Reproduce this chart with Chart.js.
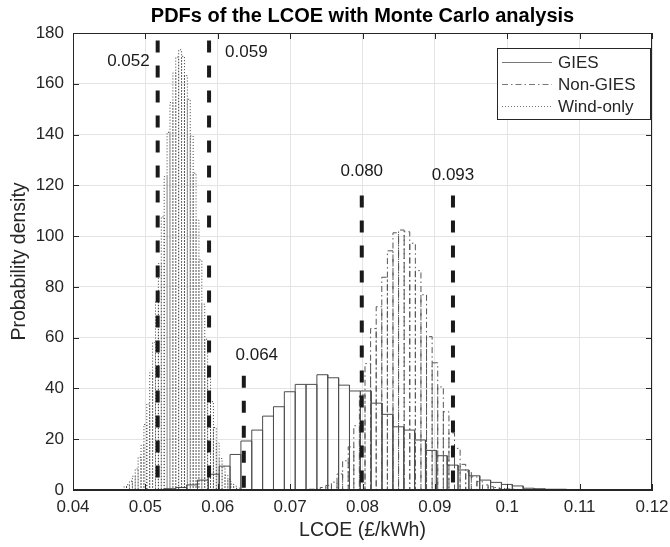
<!DOCTYPE html>
<html>
<head>
<meta charset="utf-8">
<script src="https://cdn.jsdelivr.net/npm/chart.js@4.4.1/dist/chart.umd.min.js"></script>
<style>
  html, body { margin: 0; padding: 0; background: #fff; }
</style>
</head>
<body>
<canvas id="pdfChart" width="670" height="547"></canvas>
<script>
// histogram data (bin start, bin width, density per bin)
const giesStart = 0.0497;
const giesBin = 0.0015;
const giesPdf = [0.1, 0.2, 0.5, 1.0, 2.0, 3.9, 6.2, 9.4, 14.0, 19.3, 23.6, 29.1, 32.8, 38.7,
  41.6, 41.6, 45.4, 44.2, 41.3, 39.0, 39.0, 34.2, 29.8, 24.9, 23.6, 19.7, 15.6, 13.5,
  9.8, 7.9, 5.6, 3.9, 3.0, 2.2, 1.6, 0.7, 0.5, 0.3, 0.3, 0.2, 0.1, 0.1];

const nonGiesStart = 0.07107;
const nonGiesBin = 0.000773;
const nonGiesPdf = [0.1, 0.2, 0.3, 0.5, 1.0, 1.8, 3.1, 6.3, 11.5, 17.0, 25.3, 37.4, 49.8,
  63.6, 72.2, 83.8, 94.2, 101.3, 102.4, 101.7, 97.2, 86.4, 76.9, 60.4, 50.1, 40.6, 30.8,
  22.5, 16.4, 10.1, 7.2, 5.2, 3.3, 2.0, 1.3, 1.0, 0.6, 0.4, 0.3, 0.2, 0.1];

const windStart = 0.0470;
const windBin = 0.0004;
const windPdf = [1.2, 2.1, 3.5, 5.4, 8.3, 12.9, 17.6, 25.8, 33.9, 46.2, 58.1, 74.5, 89.2,
  107.6, 123.4, 140.9, 152.6, 164.3, 170.5, 173.4, 170.8, 163.2, 153.9, 139.5, 124.8,
  106.3, 90.6, 73.2, 59.4, 45.1, 34.8, 24.6, 18.5, 12.4, 9.1, 5.8, 4.2, 2.4, 1.5, 0.8];

// vertical dashed markers
const markerX = [0.0517, 0.0588, 0.0636, 0.0799, 0.0925];
const markerTop = [177, 177, 45, 116, 116];
const markerText = ['0.052', '0.059', '0.064', '0.080', '0.093'];

const xTicks = [0.04, 0.05, 0.06, 0.07, 0.08, 0.09, 0.1, 0.11, 0.12];
const yTicks = [0, 20, 40, 60, 80, 100, 120, 140, 160, 180];

const FONT = "'Liberation Sans', Arial, Helvetica, sans-serif";
const AXIS = '#262626';

// outline of every bar, walked left to right
function histPath(start, bin, pdf) {
    const pts = [{x: start, y: 0}];
    pdf.forEach((h, i) => {
        const a = start + i * bin;
        const b = a + bin;
        pts.push({x: a, y: h}, {x: b, y: h}, {x: b, y: 0});
    });
    return pts;
}

const histSets = [
    {label: 'GIES', data: histPath(giesStart, giesBin, giesPdf), borderColor: '#4d4d4d', borderDash: []},
    {label: 'Non-GIES', data: histPath(nonGiesStart, nonGiesBin, nonGiesPdf), borderColor: '#555555', borderDash: [6, 3, 1.5, 3]},
    {label: 'Wind-only', data: histPath(windStart, windBin, windPdf), borderColor: '#3a3a3a', borderDash: [1, 2]}
].map((d, i) => Object.assign(d, {
    showLine: true, pointRadius: 0, borderWidth: 1, tension: 0, fill: false, order: 3 - i
}));

const markerSets = markerX.map((x, i) => ({
    label: 'm' + i,
    data: [{x: x, y: markerTop[i]}, {x: x, y: 0}],
    showLine: true, pointRadius: 0, borderWidth: 4, borderColor: '#1a1a1a',
    borderDash: [12, 13], order: 0
}));

// label placement for markers: [dx px, y value, align]
const markerLabelPos = [
    [-8, 169, 'right'], [16, 172.5, 'left'], [13, 53, 'center'], [0, 125.5, 'center'], [0, 124, 'center']
];

const decorPlugin = {
    id: 'decor',
    afterDraw(chart) {
        const {ctx, chartArea: ca, scales} = chart;
        const xs = scales.x, ys = scales.y;
        ctx.save();
        // box + inward ticks
        ctx.strokeStyle = AXIS;
        ctx.lineWidth = 1;
        ctx.strokeRect(ca.left + 0.5, ca.top + 0.5, ca.right - ca.left - 1, ca.bottom - ca.top - 1);
        ctx.beginPath();
        xTicks.forEach(v => {
            const p = Math.round(xs.getPixelForValue(v)) + 0.5;
            ctx.moveTo(p, ca.bottom); ctx.lineTo(p, ca.bottom - 6);
            ctx.moveTo(p, ca.top); ctx.lineTo(p, ca.top + 6);
        });
        yTicks.forEach(v => {
            const p = Math.round(ys.getPixelForValue(v)) + 0.5;
            ctx.moveTo(ca.left, p); ctx.lineTo(ca.left + 6, p);
            ctx.moveTo(ca.right, p); ctx.lineTo(ca.right - 6, p);
        });
        ctx.stroke();

        // marker labels
        ctx.fillStyle = '#1a1a1a';
        ctx.font = '17px ' + FONT;
        ctx.textBaseline = 'middle';
        markerText.forEach((t, i) => {
            const pos = markerLabelPos[i];
            ctx.textAlign = pos[2];
            ctx.fillText(t, xs.getPixelForValue(markerX[i]) + pos[0], ys.getPixelForValue(pos[1]));
        });

        // title
        ctx.fillStyle = '#000';
        ctx.font = 'bold 20px ' + FONT;
        ctx.textAlign = 'center';
        ctx.fillText('PDFs of the LCOE with Monte Carlo analysis', (ca.left + ca.right) / 2, 16);

        // legend
        const lx = ca.right - 155, ly = ca.top + 15, lw = 153, lh = 71;
        ctx.fillStyle = '#fff';
        ctx.fillRect(lx, ly, lw, lh);
        ctx.strokeStyle = AXIS;
        ctx.strokeRect(lx + 0.5, ly + 0.5, lw, lh);
        ctx.font = '17px ' + FONT;
        ctx.textAlign = 'left';
        histSets.forEach((d, i) => {
            const yy = ly + 14 + i * 22.2;
            ctx.strokeStyle = '#777';
            ctx.lineWidth = 1;
            ctx.setLineDash(d.borderDash);
            ctx.beginPath();
            ctx.moveTo(lx + 5, Math.round(yy) + 0.5);
            ctx.lineTo(lx + 55, Math.round(yy) + 0.5);
            ctx.stroke();
            ctx.setLineDash([]);
            ctx.fillStyle = AXIS;
            ctx.fillText(d.label, lx + 61, yy + 1);
        });
        ctx.restore();
    }
};

new Chart(document.getElementById('pdfChart'), {
    type: 'scatter',
    data: {datasets: histSets.concat(markerSets)},
    options: {
        responsive: false,
        animation: false,
        layout: {padding: {top: 33, right: 18, left: 0, bottom: 0}},
        plugins: {legend: {display: false}, title: {display: false}, tooltip: {enabled: false}},
        scales: {
            x: {
                type: 'linear', min: 0.04, max: 0.12,
                afterBuildTicks: s => { s.ticks = xTicks.map(v => ({value: v})); },
                afterFit: s => { s.height = 57; s.paddingLeft = 0; s.paddingRight = 0; },
                grid: {color: '#e4e4e4', drawTicks: false},
                border: {color: AXIS},
                ticks: {
                    color: AXIS, padding: 7, maxRotation: 0,
                    font: {family: FONT, size: 17},
                    callback: v => String(+v.toFixed(2))
                },
                title: {display: true, text: 'LCOE (£/kWh)', color: AXIS,
                    font: {family: FONT, size: 19.5}, padding: {top: 0, bottom: 5}}
            },
            y: {
                min: 0, max: 180,
                afterBuildTicks: s => { s.ticks = yTicks.map(v => ({value: v})); },
                afterFit: s => { s.width = 73; },
                grid: {color: '#e4e4e4', drawTicks: false},
                border: {color: AXIS},
                ticks: {color: AXIS, padding: 9, font: {family: FONT, size: 17}},
                title: {display: true, text: 'Probability density', color: AXIS,
                    font: {family: FONT, size: 19.5}, padding: {top: 8, bottom: 0}}
            }
        }
    },
    plugins: [decorPlugin]
});
</script>
</body>
</html>
